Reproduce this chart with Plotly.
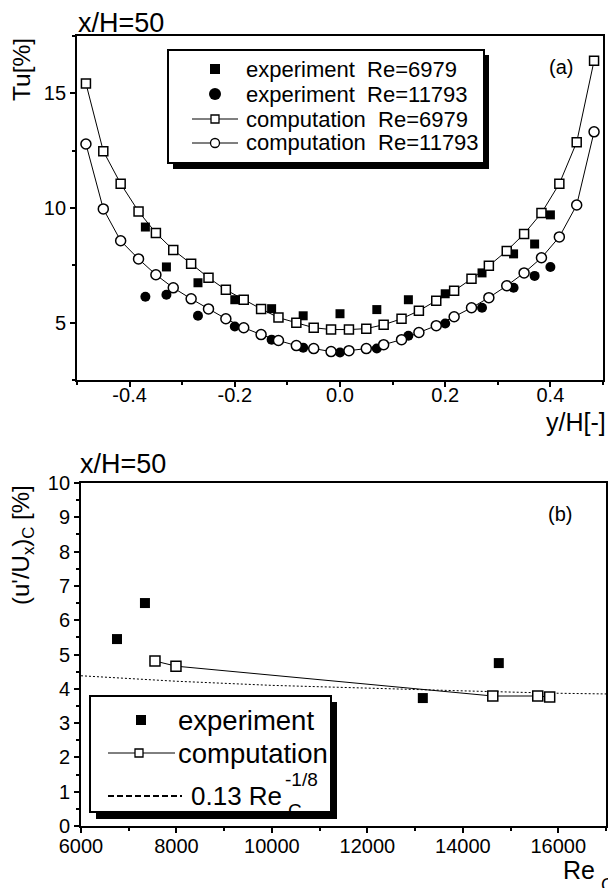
import plotly.graph_objects as go

# ---------------- data (a) ----------------
comp_yh = [-0.483, -0.450, -0.417, -0.383, -0.350, -0.317, -0.283, -0.250, -0.217, -0.183,
           -0.150, -0.117, -0.083, -0.050, -0.017, 0.017, 0.050, 0.083, 0.117, 0.150,
           0.183, 0.217, 0.250, 0.283, 0.317, 0.350, 0.383, 0.417, 0.450, 0.483]
comp_tu_6979 = [15.43, 12.48, 11.06, 9.85, 8.91, 8.17, 7.57, 6.96, 6.43, 6.00,
                5.60, 5.22, 5.00, 4.78, 4.70, 4.70, 4.74, 4.91, 5.17, 5.52,
                5.96, 6.39, 6.91, 7.48, 8.13, 8.87, 9.78, 11.06, 12.87, 16.42]
comp_tu_11793 = [12.79, 9.96, 8.57, 7.78, 7.09, 6.52, 6.04, 5.60, 5.17, 4.78,
                 4.48, 4.22, 4.00, 3.87, 3.74, 3.78, 3.87, 4.04, 4.26, 4.57,
                 4.87, 5.26, 5.65, 6.09, 6.61, 7.17, 7.83, 8.74, 10.13, 13.32]
exp_yh = [-0.37, -0.33, -0.27, -0.20, -0.13, -0.07, 0.00, 0.07, 0.13, 0.20, 0.27, 0.33, 0.37, 0.40]
exp_tu_6979 = [9.17, 7.43, 6.74, 6.00, 5.61, 5.30, 5.39, 5.57, 6.00, 6.26, 7.17, 8.00, 8.43, 9.70]
exp_tu_11793 = [6.13, 6.22, 5.30, 4.83, 4.26, 3.91, 3.70, 3.87, 4.43, 4.96, 5.65, 6.52, 7.04, 7.43]
ticks_a_x = [-0.4, -0.2, 0.0, 0.2, 0.4]
ticklabels_a_x = ["-0.4", "-0.2", "0.0", "0.2", "0.4"]
legend_a = ["experiment\u00a0\u00a0Re=6979", "experiment\u00a0\u00a0Re=11793",
            "computation\u00a0\u00a0Re=6979", "computation\u00a0\u00a0Re=11793"]

# ---------------- data (b) ----------------
exp_re = [6754, 7340, 13162, 14754]
exp_u = [5.45, 6.50, 3.73, 4.75]
comp_re = [7550, 7990, 14628, 15570, 15820]
comp_u = [4.81, 4.66, 3.79, 3.79, 3.76]
fit_re = [6000, 8000, 10000, 12000, 14000, 16000, 17000]
fit_u = [4.38, 4.22, 4.10, 4.01, 3.94, 3.87, 3.85]
legend_b = ["experiment", "computation", "0.13 Re"]

FONT = "Liberation Sans, Arial, sans-serif"
W, H = 608, 888


def px_x(p):
    return p / W


def px_y(p):
    return 1 - p / H


fig = go.Figure()

# (a) traces
fig.add_trace(go.Scatter(x=exp_yh, y=exp_tu_6979, mode="markers", name=legend_a[0],
                         marker=dict(symbol="square", size=9, color="black"), xaxis="x", yaxis="y"))
fig.add_trace(go.Scatter(x=exp_yh, y=exp_tu_11793, mode="markers", name=legend_a[1],
                         marker=dict(symbol="circle", size=10, color="black"), xaxis="x", yaxis="y"))
fig.add_trace(go.Scatter(x=comp_yh, y=comp_tu_6979, mode="lines+markers", name=legend_a[2],
                         line=dict(color="black", width=1),
                         marker=dict(symbol="square", size=9, color="white", line=dict(color="black", width=1.5)),
                         xaxis="x", yaxis="y"))
fig.add_trace(go.Scatter(x=comp_yh, y=comp_tu_11793, mode="lines+markers", name=legend_a[3],
                         line=dict(color="black", width=1),
                         marker=dict(symbol="circle", size=10, color="white", line=dict(color="black", width=1.5)),
                         xaxis="x", yaxis="y"))

# (b) traces
fig.add_trace(go.Scatter(x=fit_re, y=fit_u, mode="lines", name="0.13 Re_C^-1/8",
                         line=dict(color="black", width=1, dash="2px,2px"), xaxis="x2", yaxis="y2"))
fig.add_trace(go.Scatter(x=exp_re, y=exp_u, mode="markers", name=legend_b[0],
                         marker=dict(symbol="square", size=10, color="black"), xaxis="x2", yaxis="y2"))
fig.add_trace(go.Scatter(x=comp_re, y=comp_u, mode="lines+markers", name=legend_b[1],
                         line=dict(color="black", width=1),
                         marker=dict(symbol="square", size=10, color="white", line=dict(color="black", width=1.5)),
                         xaxis="x2", yaxis="y2"))

minor_common = dict(ticks="outside", ticklen=3, tickwidth=1.5, tickcolor="black")
axis_common = dict(showline=True, linecolor="black", linewidth=1.8, mirror=True, ticks="outside",
                   ticklen=5, tickwidth=1.5, tickcolor="black", showgrid=False, zeroline=False,
                   automargin=False,
                   tickfont=dict(family=FONT, size=20, color="black"))

fig.update_layout(
    width=W, height=H, margin=dict(l=0, r=0, t=0, b=0, pad=0, autoexpand=False),
    paper_bgcolor="white", plot_bgcolor="white",
    font=dict(family=FONT, color="black"),
    showlegend=False,
    xaxis=dict(domain=[px_x(77), px_x(603)], range=[-0.5, 0.5], tickmode="array",
               tickvals=ticks_a_x, ticktext=ticklabels_a_x, anchor="y", ticklabelstandoff=-9,
               minor=dict(dtick=0.1, tick0=0, **minor_common), **axis_common),
    yaxis=dict(domain=[px_y(380), px_y(36)], range=[2.5, 17.5], dtick=5, tick0=0, anchor="x",
               minor=dict(dtick=2.5, tick0=0, **minor_common), **axis_common),
    xaxis2=dict(domain=[px_x(81), px_x(606)], range=[6000, 17000], dtick=2000, tick0=0,
                tickformat="d", anchor="y2", ticklabelstandoff=-4,
                minor=dict(dtick=1000, tick0=0, **minor_common), **axis_common),
    yaxis2=dict(domain=[px_y(826), px_y(483)], range=[0, 10], dtick=1, tick0=0, anchor="x2",
                minor=dict(dtick=0.5, tick0=0, **minor_common), **axis_common),
)

# ---------- legends drawn as layout decorations ----------
shapes = []


def rect(x0, y0, x1, y1, fill, lc=None, lw=0):
    return dict(type="rect", xref="paper", yref="paper", x0=px_x(x0), x1=px_x(x1),
                y0=px_y(y1), y1=px_y(y0), fillcolor=fill,
                line=dict(color=lc or fill, width=lw), layer="above")


def circ(cx, cy, d, fill, lw=0):
    return dict(type="circle", xref="paper", yref="paper", x0=px_x(cx - d / 2), x1=px_x(cx + d / 2),
                y0=px_y(cy + d / 2), y1=px_y(cy - d / 2), fillcolor=fill,
                line=dict(color="black", width=lw), layer="above")


def hline(x0, x1, y, dash="solid", lw=1):
    return dict(type="line", xref="paper", yref="paper", x0=px_x(x0), x1=px_x(x1),
                y0=px_y(y), y1=px_y(y), line=dict(color="black", width=lw, dash=dash), layer="above")


# legend (a)
shapes.append(rect(173, 55, 489, 169, "black"))
shapes.append(rect(168, 50, 484, 163, "white", "black", 2))
rows_a = [69, 94, 119, 143]
shapes.append(rect(210, rows_a[0] - 5, 220, rows_a[0] + 5, "black"))
shapes.append(circ(215, rows_a[1], 12, "black"))
shapes.append(hline(192, 238, rows_a[2]))
shapes.append(rect(211, rows_a[2] - 4, 219, rows_a[2] + 4, "white", "black", 1.3))
shapes.append(hline(192, 238, rows_a[3]))
shapes.append(circ(215, rows_a[3], 9, "white", 1.3))

# legend (b)
shapes.append(rect(96, 702, 337, 819, "black"))
shapes.append(rect(90, 696, 331, 812, "white", "black", 2))
rows_b = [720, 753, 796]
shapes.append(rect(136, rows_b[0] - 5, 146, rows_b[0] + 5, "black"))
shapes.append(hline(108, 175, rows_b[1]))
shapes.append(rect(135, rows_b[1] - 4, 143, rows_b[1] + 4, "white", "black", 1.3))
shapes.append(hline(108, 182, rows_b[2], dash="6px,3px", lw=1.8))
fig.update_layout(shapes=shapes)

annots = [
    dict(text="x/H=50", x=76, y=23, xanchor="left", size=27),
    dict(text="Tu[%]", x=22, y=70, xanchor="center", size=24.5, textangle=-90),
    dict(text="y/H[-]", x=608, y=422, xanchor="right", size=25),
    dict(text="(a)", x=561, y=67, xanchor="center", size=20),
    dict(text="x/H=50", x=78, y=464, xanchor="left", size=27),
    dict(text="(u'/U<sub>x</sub>)<sub>C</sub> [%]", x=22, y=545, xanchor="center", size=24, textangle=-90),
    dict(text="(b)", x=560, y=514, xanchor="center", size=20),
    dict(text="Re", x=561, y=870, xanchor="left", size=25),
    dict(text="C", x=599, y=885, xanchor="left", size=18),
]
for i, t in enumerate(legend_a):
    annots.append(dict(text=t, x=244, y=rows_a[i], xanchor="left", size=22))
annots.append(dict(text=legend_b[0], x=176, y=rows_b[0], xanchor="left", size=27.5))
annots.append(dict(text=legend_b[1], x=176, y=rows_b[1], xanchor="left", size=27.5))
annots.append(dict(text=legend_b[2], x=189, y=rows_b[2], xanchor="left", size=26))
annots.append(dict(text="-1/8", x=283, y=779, xanchor="left", size=19))
annots.append(dict(text="C", x=286, y=810, xanchor="left", size=19))

ann_list = []
for a in annots:
    d = dict(text=a["text"], x=px_x(a["x"]), y=px_y(a["y"]), xanchor=a["xanchor"], yanchor="middle",
             xref="paper", yref="paper", showarrow=False,
             font=dict(family=FONT, size=a["size"], color="black"))
    if "textangle" in a:
        d["textangle"] = a["textangle"]
    ann_list.append(d)
fig.update_layout(annotations=ann_list)

fig.write_html("out.html")
